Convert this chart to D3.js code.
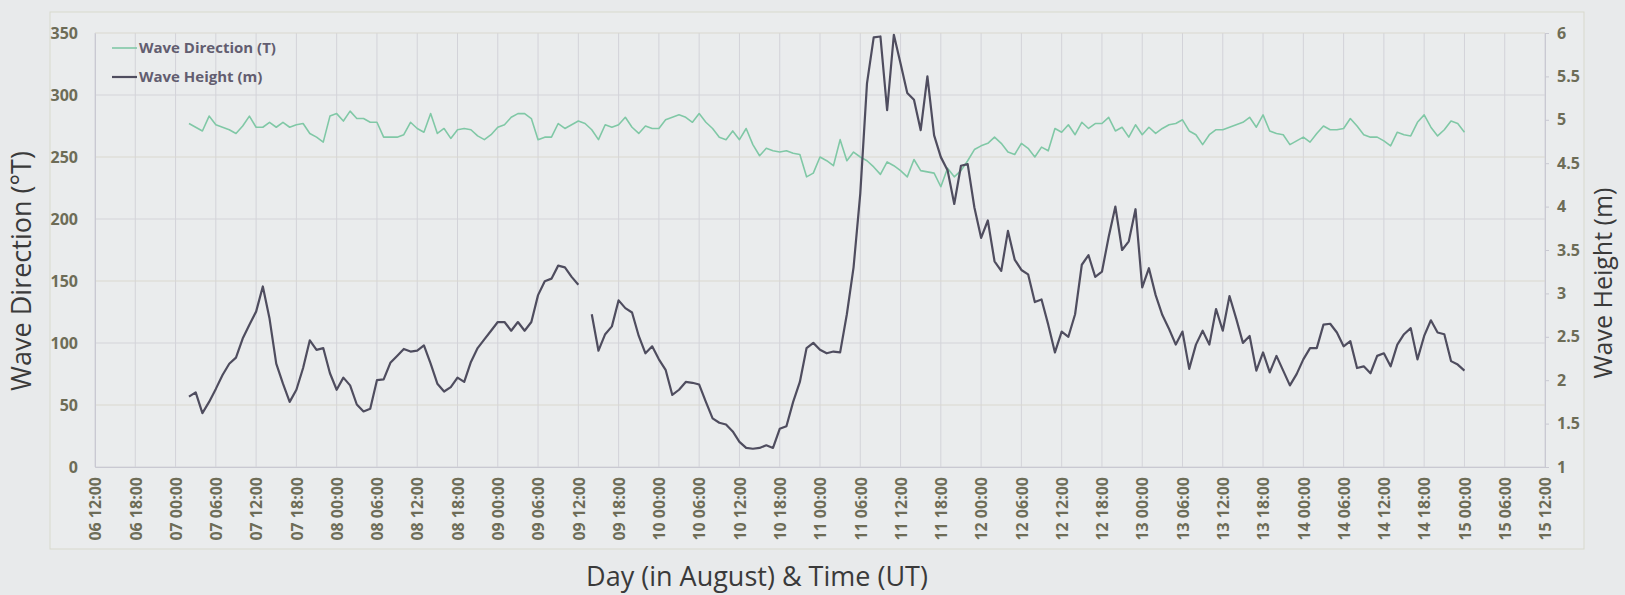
<!DOCTYPE html>
<html>
<head>
<meta charset="utf-8">
<script src="https://cdn.jsdelivr.net/npm/d3@7"></script>
<style>
  body { margin: 0; background: #e8eaeb; }
  svg { display: block; }
  .tick text { font-family: "Open Sans", sans-serif; font-weight: bold; fill: #6d6c57; }
</style>
</head>
<body>
<div id="vis"></div>
<script>
// data: hourly readings starting 07 Aug 02:00 UT, ending 15 Aug 00:00 UT
const START_DAY = 7;
const START_HOUR = 2;

// wave direction (deg T), one per hour
const WAVE_DIRECTION = [
  277, 274, 271, 283, 276, 274, 272, 269, 275, 283,
  274, 274, 278, 274, 278, 274, 276, 277, 269, 266,
  262, 283, 285, 279, 287, 281, 281, 278, 278, 266,
  266, 266, 268, 278, 273, 270, 285, 269, 273, 265,
  272, 273, 272, 267, 264, 268, 274, 276, 282, 285,
  285, 281, 264, 266, 266, 277, 273, 276, 279, 277,
  272, 264, 276, 274, 276, 282, 274, 269, 275, 273,
  273, 280, 282, 284, 282, 278, 285, 278, 273, 266,
  264, 271, 264, 273, 260, 251, 257, 255, 254, 255,
  253, 252, 234, 237, 250, 247, 243, 264, 247, 254,
  250, 247, 242, 236, 246, 243, 239, 234, 248, 239,
  238, 237, 226, 241, 234, 239, 247, 256, 259, 261,
  266, 261, 254, 252, 261, 257, 250, 258, 255, 273,
  270, 276, 268, 278, 273, 277, 277, 282, 271, 274,
  266, 276, 268, 274, 269, 273, 276, 277, 280, 271,
  268, 260, 268, 272, 272, 274, 276, 278, 282, 274,
  284, 271, 269, 268, 260, 263, 266, 262, 269, 275,
  272, 272, 273, 281, 275, 268, 266, 266, 263, 259,
  270, 268, 267, 278, 284, 274, 267, 272, 279, 277,
  270
];

// wave height (m), one per hour, null = missing
const WAVE_HEIGHT = [
  1.81, 1.86, 1.62, 1.75, 1.90, 2.06, 2.19, 2.26, 2.48, 2.64,
  2.79, 3.08, 2.71, 2.19, 1.96, 1.75, 1.89, 2.14, 2.46, 2.35,
  2.37, 2.08, 1.89, 2.03, 1.94, 1.72, 1.64, 1.67, 2.00, 2.01,
  2.20, 2.28, 2.36, 2.33, 2.34, 2.40, 2.19, 1.96, 1.87, 1.92,
  2.03, 1.98, 2.21, 2.37, 2.47, 2.57, 2.67, 2.67, 2.57, 2.67,
  2.57, 2.67, 2.98, 3.14, 3.17, 3.32, 3.30, 3.19, 3.10, null,
  2.76, 2.34, 2.53, 2.62, 2.92, 2.83, 2.78, 2.51, 2.31, 2.39,
  2.24, 2.12, 1.83, 1.89, 1.98, 1.97, 1.95, 1.75, 1.56, 1.51,
  1.49, 1.41, 1.29, 1.22, 1.21, 1.22, 1.25, 1.22, 1.44, 1.47,
  1.75, 1.98, 2.37, 2.43, 2.35, 2.31, 2.33, 2.32, 2.76, 3.30,
  4.15, 5.42, 5.95, 5.96, 5.11, 5.98, 5.65, 5.31, 5.23, 4.88,
  5.50, 4.82, 4.57, 4.42, 4.03, 4.47, 4.49, 3.99, 3.64, 3.84,
  3.37, 3.26, 3.72, 3.39, 3.27, 3.22, 2.90, 2.93, 2.64, 2.32,
  2.56, 2.50, 2.76, 3.33, 3.44, 3.19, 3.25, 3.65, 4.00, 3.50,
  3.60, 3.97, 3.07, 3.29, 2.98, 2.75, 2.59, 2.41, 2.56, 2.13,
  2.41, 2.57, 2.41, 2.82, 2.57, 2.97, 2.71, 2.43, 2.51, 2.11,
  2.32, 2.09, 2.28, 2.11, 1.94, 2.07, 2.24, 2.37, 2.37, 2.64,
  2.65, 2.55, 2.39, 2.45, 2.14, 2.16, 2.08, 2.28, 2.31, 2.16,
  2.41, 2.53, 2.60, 2.24, 2.51, 2.69, 2.55, 2.53, 2.22, 2.18,
  2.11
];

// axis ticks
const DIR_TICKS = [0, 50, 100, 150, 200, 250, 300, 350];
const HEIGHT_TICKS = [1, 1.5, 2, 2.5, 3, 3.5, 4, 4.5, 5, 5.5, 6];
const X_START = new Date(Date.UTC(2014, 7, 6, 12));
const X_END = new Date(Date.UTC(2014, 7, 15, 12));

const SERIES_NAMES = ["Wave Direction (T)", "Wave Height (m)"];
const COLORS = {dir: "#80c8a6", height: "#4f4d5f"};

// frame
const FRAME_WIDTH = 1625;
const FRAME_HEIGHT = 595;
const MARGINS = {left: 95, right: 80, top: 33, bottom: 128};
const VIS_WIDTH = FRAME_WIDTH - MARGINS.left - MARGINS.right;
const VIS_HEIGHT = FRAME_HEIGHT - MARGINS.top - MARGINS.bottom;

const FRAME = d3.select("#vis")
  .append("svg")
    .attr("width", FRAME_WIDTH)
    .attr("height", FRAME_HEIGHT);

// outer chart border
FRAME.append("rect")
  .attr("x", 50).attr("y", 12)
  .attr("width", 1534).attr("height", 537)
  .attr("fill", "#eaeced")
  .attr("stroke", "#d8d9cd");

// scales
const X_SCALE = d3.scaleUtc()
  .domain([X_START, X_END])
  .range([0, VIS_WIDTH]);

const Y_DIR = d3.scaleLinear()
  .domain([0, 350])
  .range([VIS_HEIGHT, 0]);

const Y_HEIGHT = d3.scaleLinear()
  .domain([1, 6])
  .range([VIS_HEIGHT, 0]);

const X_TICKS = d3.utcHour.every(6).range(X_START, new Date(+X_END + 1));

const G = FRAME.append("g")
  .attr("transform", "translate(" + MARGINS.left + "," + MARGINS.top + ")");

// gridlines
G.append("g")
  .selectAll("line")
  .data(X_TICKS)
  .enter()
  .append("line")
    .attr("x1", (d) => X_SCALE(d)).attr("x2", (d) => X_SCALE(d))
    .attr("y1", 0).attr("y2", VIS_HEIGHT)
    .attr("stroke", "#d3d3d9")
    .attr("stroke-width", 1);

G.append("g")
  .selectAll("line")
  .data(DIR_TICKS)
  .enter()
  .append("line")
    .attr("x1", 0).attr("x2", VIS_WIDTH)
    .attr("y1", (d) => Y_DIR(d)).attr("y2", (d) => Y_DIR(d))
    .attr("stroke", (d, i) => (i % 2 ? "#d9d8cf" : "#d3d3da"))
    .attr("stroke-width", 1.2);

// axes
const X_AXIS = G.append("g")
  .attr("transform", "translate(0," + VIS_HEIGHT + ")")
  .call(d3.axisBottom(X_SCALE)
    .tickValues(X_TICKS)
    .tickSize(0)
    .tickFormat(d3.utcFormat("%d %H:%M")));
X_AXIS.select(".domain").attr("stroke", "#c9c9d2");
X_AXIS.selectAll("text")
  .attr("font-size", "16px")
  .attr("transform", "rotate(-90)")
  .attr("text-anchor", "end")
  .attr("x", -10)
  .attr("y", 0)
  .attr("dy", "0.36em");

const Y_AXIS_L = G.append("g")
  .call(d3.axisLeft(Y_DIR).tickValues(DIR_TICKS).tickSize(0).tickPadding(17));
Y_AXIS_L.select(".domain").attr("stroke", "#c9c9d2");
Y_AXIS_L.selectAll("text").attr("font-size", "16px");

const Y_AXIS_R = G.append("g")
  .attr("transform", "translate(" + VIS_WIDTH + ",0)")
  .call(d3.axisRight(Y_HEIGHT)
    .tickValues(HEIGHT_TICKS)
    .tickFormat(d3.format("~g"))
    .tickSize(4)
    .tickPadding(8));
Y_AXIS_R.select(".domain").attr("stroke", "#c9c9d2");
Y_AXIS_R.selectAll(".tick line").attr("stroke", "#c9c9d2");
Y_AXIS_R.selectAll("text").attr("font-size", "16px");

// lines
const timeOf = (i) => new Date(Date.UTC(2014, 7, START_DAY, START_HOUR + i));

const dirLine = d3.line()
  .x((d, i) => X_SCALE(timeOf(i)))
  .y((d) => Y_DIR(d));

const heightLine = d3.line()
  .defined((d) => d !== null)
  .x((d, i) => X_SCALE(timeOf(i)))
  .y((d) => Y_HEIGHT(d));

G.append("path")
  .datum(WAVE_DIRECTION)
  .attr("d", dirLine)
  .attr("fill", "none")
  .attr("stroke", COLORS.dir)
  .attr("stroke-width", 1.6)
  .attr("stroke-linejoin", "round");

G.append("path")
  .datum(WAVE_HEIGHT)
  .attr("d", heightLine)
  .attr("fill", "none")
  .attr("stroke", COLORS.height)
  .attr("stroke-width", 2.2)
  .attr("stroke-linejoin", "round");

// legend
const LEGEND = FRAME.append("g");
[COLORS.dir, COLORS.height].forEach((c, i) => {
  const y = 48 + i * 29;
  LEGEND.append("line")
    .attr("x1", 112).attr("x2", 137)
    .attr("y1", y).attr("y2", y)
    .attr("stroke", c)
    .attr("stroke-width", i ? 2.2 : 1.6);
  LEGEND.append("text")
    .attr("x", 139).attr("y", y)
    .attr("dy", "0.36em")
    .attr("font-family", "Open Sans, sans-serif")
    .attr("font-weight", "bold")
    .attr("font-size", "15px")
    .attr("fill", "#625d70")
    .text(SERIES_NAMES[i]);
});

// axis titles
FRAME.append("text")
  .attr("transform", "translate(31,271) rotate(-90)")
  .attr("text-anchor", "middle")
  .attr("font-family", "Open Sans, sans-serif")
  .attr("font-size", "27px")
  .attr("fill", "#3a3a3a")
  .text("Wave Direction (°T)");

FRAME.append("text")
  .attr("transform", "translate(1612,283) rotate(-90)")
  .attr("text-anchor", "middle")
  .attr("font-family", "Open Sans, sans-serif")
  .attr("font-size", "25px")
  .attr("fill", "#3a3a3a")
  .text("Wave Height (m)");

FRAME.append("text")
  .attr("x", 757).attr("y", 586)
  .attr("text-anchor", "middle")
  .attr("font-family", "Open Sans, sans-serif")
  .attr("font-size", "27px")
  .attr("fill", "#3a3a3a")
  .text("Day (in August) & Time (UT)");
</script>
</body>
</html>
